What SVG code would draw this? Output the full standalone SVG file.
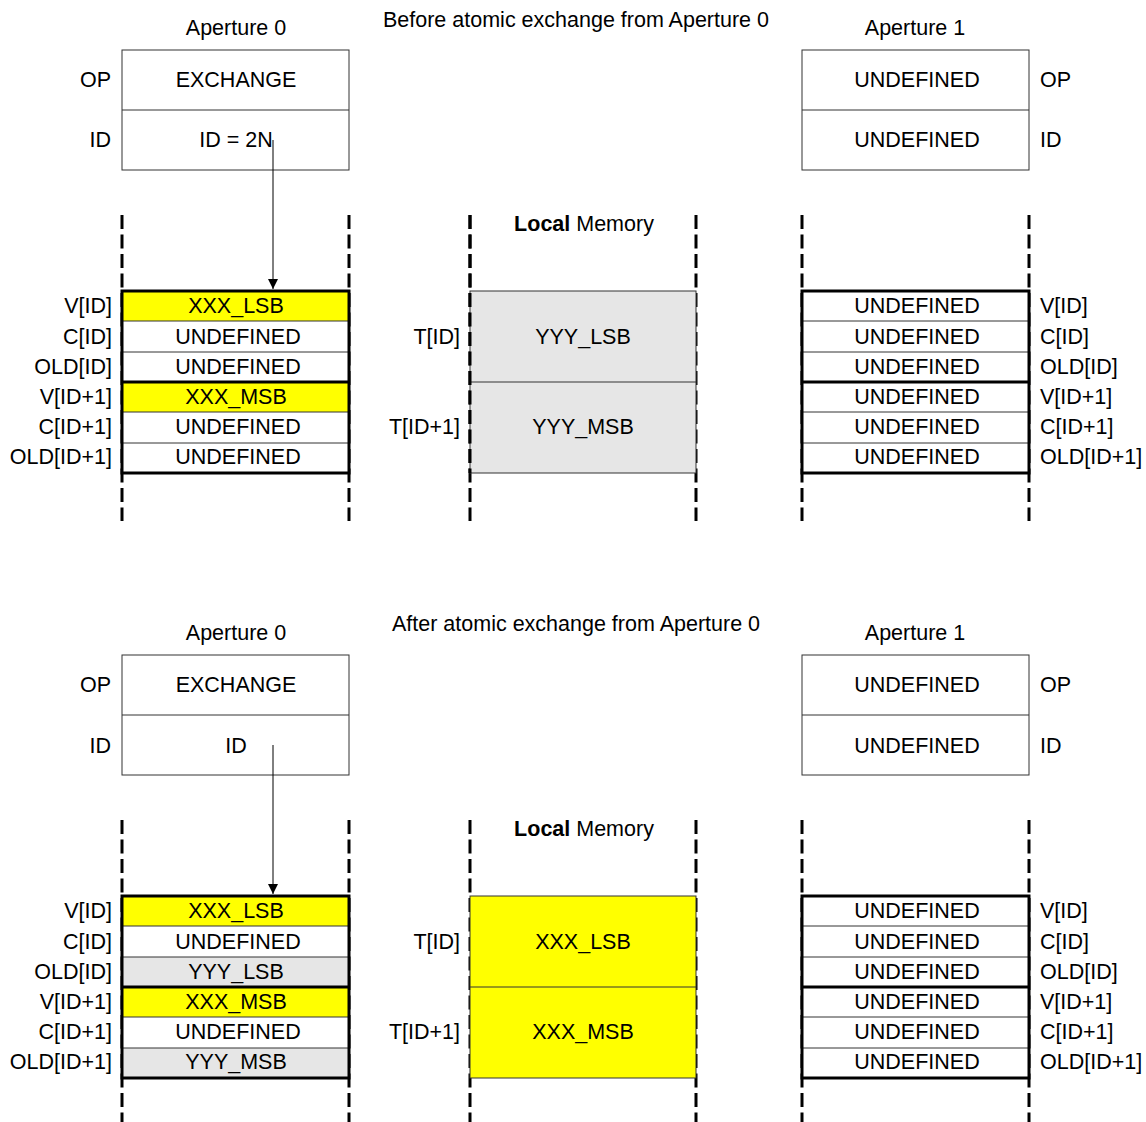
<svg xmlns="http://www.w3.org/2000/svg" width="1146" height="1122" viewBox="0 0 1146 1122">
<style>
text{font-family:"Liberation Sans",Arial,sans-serif;font-size:21.5px;fill:#000}
.c{text-anchor:middle}
.r{text-anchor:end}
.l{text-anchor:start}
.box{fill:#fff;stroke:#333;stroke-width:1}
.thin{stroke:#333;stroke-width:1;fill:none}
.thick{stroke:#000;stroke-width:3;fill:none}
.dash{stroke:#000;stroke-width:3;stroke-dasharray:14 5.5;fill:none}
.y{fill:#ffff00}
.g{fill:#e6e6e6}
.w{fill:#fff}
.conn{stroke:#000;stroke-width:1;fill:none}
</style>
<defs>
<marker id="ah" viewBox="0 0 10 10" refX="10" refY="5" markerWidth="10" markerHeight="10" markerUnits="userSpaceOnUse" orient="auto">
<path d="M0,0 L10,5 L0,10 Z" fill="#000"/>
</marker>
<g id="dashes">
<line class="dash" x1="122" y1="215" x2="122" y2="521"/>
<line class="dash" x1="349" y1="215" x2="349" y2="521"/>
<line class="dash" x1="470" y1="215" x2="470" y2="521"/>
<line class="dash" x1="696" y1="215" x2="696" y2="521"/>
<line class="dash" x1="802" y1="215" x2="802" y2="521"/>
<line class="dash" x1="1029" y1="215" x2="1029" y2="521"/>
</g>
</defs>

<!-- ================= BEFORE ================= -->
<g id="before">
<text id="title-before" class="c" x="576" y="27">Before atomic exchange from Aperture 0</text>

<g id="ap0-before">
<text class="c" x="236" y="35">Aperture 0</text>
<rect class="box" x="122" y="50" width="227" height="120"/>
<line class="thin" x1="122" y1="110" x2="349" y2="110"/>
<text class="c" x="236" y="87">EXCHANGE</text>
<text class="c" x="236" y="147">ID = 2N</text>
<text class="r" x="111" y="87">OP</text>
<text class="r" x="111" y="147">ID</text>
</g>

<g id="ap1-before">
<text class="c" x="915" y="35">Aperture 1</text>
<rect class="box" x="802" y="50" width="227" height="120"/>
<line class="thin" x1="802" y1="110" x2="1029" y2="110"/>
<text class="c" x="917" y="87">UNDEFINED</text>
<text class="c" x="917" y="147">UNDEFINED</text>
<text class="l" x="1040" y="87">OP</text>
<text class="l" x="1040" y="147">ID</text>
</g>

<use href="#dashes"/>

<g id="mem0-before">
<rect class="y" x="122" y="291" width="227" height="30"/>
<rect class="w" x="122" y="321" width="227" height="61"/>
<rect class="y" x="122" y="382" width="227" height="30"/>
<rect class="w" x="122" y="412" width="227" height="61"/>
<line class="thin" x1="122" y1="321" x2="349" y2="321"/>
<line class="thin" x1="122" y1="352" x2="349" y2="352"/>
<line class="thin" x1="122" y1="412" x2="349" y2="412"/>
<line class="thin" x1="122" y1="443" x2="349" y2="443"/>
<line class="thick" x1="122" y1="382" x2="349" y2="382"/>
<rect class="thick" x="122" y="291" width="227" height="182"/>
<text class="c" x="236" y="313">XXX_LSB</text>
<text class="c" x="238" y="344">UNDEFINED</text>
<text class="c" x="238" y="374">UNDEFINED</text>
<text class="c" x="236" y="404">XXX_MSB</text>
<text class="c" x="238" y="434">UNDEFINED</text>
<text class="c" x="238" y="464">UNDEFINED</text>
<text class="r" x="112" y="313">V[ID]</text>
<text class="r" x="112" y="344">C[ID]</text>
<text class="r" x="112" y="374">OLD[ID]</text>
<text class="r" x="112" y="404">V[ID+1]</text>
<text class="r" x="112" y="434">C[ID+1]</text>
<text class="r" x="112" y="464">OLD[ID+1]</text>
</g>

<g id="local-before">
<text class="c" x="584" y="231"><tspan font-weight="bold">Local</tspan> Memory</text>
<rect class="g" x="470" y="291" width="226" height="182" stroke="#333" stroke-width="1"/>
<line class="thin" x1="470" y1="382" x2="696" y2="382"/>
<line class="dash" x1="470" y1="215" x2="470" y2="473"/>
<text class="c" x="583" y="344">YYY_LSB</text>
<text class="c" x="583" y="434">YYY_MSB</text>
<text class="r" x="460" y="344">T[ID]</text>
<text class="r" x="460" y="434">T[ID+1]</text>
</g>

<g id="mem1-before">
<rect class="w" x="802" y="291" width="227" height="182"/>
<line class="thin" x1="802" y1="321" x2="1029" y2="321"/>
<line class="thin" x1="802" y1="352" x2="1029" y2="352"/>
<line class="thin" x1="802" y1="412" x2="1029" y2="412"/>
<line class="thin" x1="802" y1="443" x2="1029" y2="443"/>
<line class="thick" x1="802" y1="382" x2="1029" y2="382"/>
<rect class="thick" x="802" y="291" width="227" height="182"/>
<text class="c" x="917" y="313">UNDEFINED</text>
<text class="c" x="917" y="344">UNDEFINED</text>
<text class="c" x="917" y="374">UNDEFINED</text>
<text class="c" x="917" y="404">UNDEFINED</text>
<text class="c" x="917" y="434">UNDEFINED</text>
<text class="c" x="917" y="464">UNDEFINED</text>
<text class="l" x="1040" y="313">V[ID]</text>
<text class="l" x="1040" y="344">C[ID]</text>
<text class="l" x="1040" y="374">OLD[ID]</text>
<text class="l" x="1040" y="404">V[ID+1]</text>
<text class="l" x="1040" y="434">C[ID+1]</text>
<text class="l" x="1040" y="464">OLD[ID+1]</text>
</g>
</g>

<!-- ================= AFTER ================= -->
<g id="after">
<text id="title-after" class="c" x="576" y="631">After atomic exchange from Aperture 0</text>

<g id="ap0-after">
<text class="c" x="236" y="640">Aperture 0</text>
<rect class="box" x="122" y="655" width="227" height="120"/>
<line class="thin" x1="122" y1="715" x2="349" y2="715"/>
<text class="c" x="236" y="692">EXCHANGE</text>
<text class="c" x="236" y="753">ID</text>
<text class="r" x="111" y="692">OP</text>
<text class="r" x="111" y="753">ID</text>
</g>

<g id="ap1-after">
<text class="c" x="915" y="640">Aperture 1</text>
<rect class="box" x="802" y="655" width="227" height="120"/>
<line class="thin" x1="802" y1="715" x2="1029" y2="715"/>
<text class="c" x="917" y="692">UNDEFINED</text>
<text class="c" x="917" y="753">UNDEFINED</text>
<text class="l" x="1040" y="692">OP</text>
<text class="l" x="1040" y="753">ID</text>
</g>

<use href="#dashes" transform="translate(0,605)"/>

<g id="mem0-after">
<rect class="y" x="122" y="896" width="227" height="30"/>
<rect class="w" x="122" y="926" width="227" height="31"/>
<rect class="g" x="122" y="957" width="227" height="30"/>
<rect class="y" x="122" y="987" width="227" height="30"/>
<rect class="w" x="122" y="1017" width="227" height="31"/>
<rect class="g" x="122" y="1048" width="227" height="30"/>
<line class="thin" x1="122" y1="926" x2="349" y2="926"/>
<line class="thin" x1="122" y1="957" x2="349" y2="957"/>
<line class="thin" x1="122" y1="1017" x2="349" y2="1017"/>
<line class="thin" x1="122" y1="1048" x2="349" y2="1048"/>
<line class="thick" x1="122" y1="987" x2="349" y2="987"/>
<rect class="thick" x="122" y="896" width="227" height="182"/>
<text class="c" x="236" y="918">XXX_LSB</text>
<text class="c" x="238" y="949">UNDEFINED</text>
<text class="c" x="236" y="979">YYY_LSB</text>
<text class="c" x="236" y="1009">XXX_MSB</text>
<text class="c" x="238" y="1039">UNDEFINED</text>
<text class="c" x="236" y="1069">YYY_MSB</text>
<text class="r" x="112" y="918">V[ID]</text>
<text class="r" x="112" y="949">C[ID]</text>
<text class="r" x="112" y="979">OLD[ID]</text>
<text class="r" x="112" y="1009">V[ID+1]</text>
<text class="r" x="112" y="1039">C[ID+1]</text>
<text class="r" x="112" y="1069">OLD[ID+1]</text>
</g>

<g id="local-after">
<text class="c" x="584" y="836"><tspan font-weight="bold">Local</tspan> Memory</text>
<rect class="y" x="470" y="896" width="226" height="182" stroke="#333" stroke-width="1"/>
<line class="thin" x1="470" y1="987" x2="696" y2="987"/>
<text class="c" x="583" y="949">XXX_LSB</text>
<text class="c" x="583" y="1039">XXX_MSB</text>
<text class="r" x="460" y="949">T[ID]</text>
<text class="r" x="460" y="1039">T[ID+1]</text>
</g>

<g id="mem1-after">
<rect class="w" x="802" y="896" width="227" height="182"/>
<line class="thin" x1="802" y1="926" x2="1029" y2="926"/>
<line class="thin" x1="802" y1="957" x2="1029" y2="957"/>
<line class="thin" x1="802" y1="1017" x2="1029" y2="1017"/>
<line class="thin" x1="802" y1="1048" x2="1029" y2="1048"/>
<line class="thick" x1="802" y1="987" x2="1029" y2="987"/>
<rect class="thick" x="802" y="896" width="227" height="182"/>
<text class="c" x="917" y="918">UNDEFINED</text>
<text class="c" x="917" y="949">UNDEFINED</text>
<text class="c" x="917" y="979">UNDEFINED</text>
<text class="c" x="917" y="1009">UNDEFINED</text>
<text class="c" x="917" y="1039">UNDEFINED</text>
<text class="c" x="917" y="1069">UNDEFINED</text>
<text class="l" x="1040" y="918">V[ID]</text>
<text class="l" x="1040" y="949">C[ID]</text>
<text class="l" x="1040" y="979">OLD[ID]</text>
<text class="l" x="1040" y="1009">V[ID+1]</text>
<text class="l" x="1040" y="1039">C[ID+1]</text>
<text class="l" x="1040" y="1069">OLD[ID+1]</text>
</g>
</g>

<g id="connectors">
<line class="conn" x1="273" y1="140" x2="273" y2="289" marker-end="url(#ah)"/>
<line class="conn" x1="273" y1="745" x2="273" y2="894" marker-end="url(#ah)"/>
</g>
</svg>
